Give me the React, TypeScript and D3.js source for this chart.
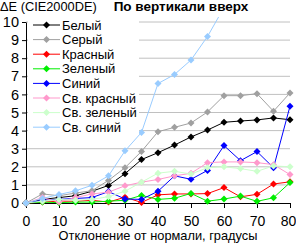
import React, { useEffect, useRef } from 'react'
import * as d3 from 'd3'

// viewing angle, degrees
const degrees = [0, 5, 10, 15, 20, 25, 30, 35, 40, 45, 50, 55, 60, 65, 70, 75, 80]

const white = [0, 0.2, 0.3, 0.4, 0.65, 0.97, 1.62, 2.4, 2.78, 3.2, 3.65, 4.03, 4.46, 4.53, 4.59, 4.7, 4.6]
const gray = [0, 0.5, 0.4, 0.55, 0.68, 1.25, 1.95, 2.85, 3.94, 4.18, 4.42, 5.03, 5.93, 5.93, 6.04, 5.07, 6.08]
const red = [0, 0.05, 0.1, 0.1, 0.15, 0.05, 0.32, 0.03, 0.45, 0.5, 0.5, 0.52, 0.85, 0.34, 0.48, 1.05, 1.17]
const green = [0, 0.05, 0.02, 0.05, 0.05, 0.1, 0.15, 0.42, 0.2, 0.26, 0.53, 0.1, 0.22, 0.38, 0.09, 0.29, 1.13]
const blue = [0, 0.15, 0.2, 0.25, 0.3, 0.63, 0.22, 0.2, 0.65, 1.5, 1.31, 1.8, 3.17, 2.34, 2.84, 1.95, 5.35]
const lightRed = [0, 0.3, 0.05, 0.3, 0.5, 0.6, 0.95, 1.15, 1.3, 1.5, 1.64, 2.23, 2.27, 2.27, 2.23, 2.12, 1.57]
const lightGreen = [0, 0.1, 0.2, 0.15, 0.2, 0.35, 0.65, 1.15, 1.65, 1.75, 1.6, 1.95, 2.0, 1.9, 1.75, 2.05, 2.0]
const lightBlue = [0, 0.25, 0.47, 0.67, 0.98, 1.5, 2.88, 3.9, 6.6, 7.1, 7.9, 9.2, 10.8]

const names = ['Белый', 'Серый', 'Красный', 'Зеленый', 'Синий', 'Св. красный', 'Св. зеленый', 'Св. синий']
const values = [white, gray, red, green, blue, lightRed, lightGreen, lightBlue]
const colors = ['#000000', '#a0a0a0', '#ff0000', '#00ee00', '#0000ff', '#ff99cc', '#ccffcc', '#99ccff']

const yTicks = [0, 1, 2, 3, 4, 5, 6, 7, 8, 9, 10]
const xTicks = [0, 10, 20, 30, 40, 50, 60, 70, 80]

const font = '"Liberation Sans", Arial, sans-serif'

const diamond = (r: number) => `M0,${-r}L${r},0L0,${r}L${-r},0Z`

export default function App() {
    const ref = useRef<SVGSVGElement>(null)

    useEffect(() => {
        const svg = d3.select(ref.current)
        svg.selectAll('*').remove()

        const x = d3.scaleLinear().domain([0, 80]).range([26, 290])
        const y = d3.scaleLinear().domain([0, 10]).range([203, 22])

        // horizontal gridlines
        svg.append('g')
            .selectAll('line')
            .data(yTicks.filter(t => t > 0))
            .join('line')
            .attr('x1', x(0))
            .attr('x2', x(80))
            .attr('y1', d => y(d))
            .attr('y2', d => y(d))
            .attr('stroke', '#c0c0c0')

        svg.append('defs').append('clipPath').attr('id', 'plot')
            .append('rect')
            .attr('x', 18).attr('y', 17).attr('width', 278).attr('height', 200)

        // axes
        const yAxis = svg.append('g')
            .attr('transform', `translate(${x(0)},0)`)
            .call(d3.axisLeft(y).tickValues(yTicks).tickSize(4).tickSizeOuter(0).tickPadding(3).tickFormat(d3.format('d')))
        const xAxis = svg.append('g')
            .attr('transform', `translate(0,${y(0)})`)
            .call(d3.axisBottom(x).tickValues(xTicks).tickSize(5).tickSizeOuter(0).tickPadding(8).tickFormat(d3.format('d')))
        ;[yAxis, xAxis].forEach(a => {
            a.selectAll('path,line').attr('stroke', '#000')
            a.selectAll('text')
                .attr('fill', '#000')
                .style('font-family', font)
        })
        yAxis.selectAll('text').style('font-size', '14.5px')
        xAxis.selectAll('text').style('font-size', '14px')
        // keep the last label inside the frame
        xAxis.selectAll('text').filter(d => d === 80).attr('dx', -2)

        const line = d3.line<number>()
            .x((d, i) => x(degrees[i]))
            .y(d => y(d))

        const series = svg.append('g').attr('clip-path', 'url(#plot)')
        values.forEach((vals, k) => {
            series.append('path')
                .attr('d', line(vals))
                .attr('fill', 'none')
                .attr('stroke', colors[k])
                .attr('stroke-width', 1)
            series.append('g')
                .selectAll('path')
                .data(vals)
                .join('path')
                .attr('d', diamond(3.5))
                .attr('transform', (d, i) => `translate(${x(degrees[i])},${y(d)})`)
                .attr('fill', colors[k])
        })

        // legend
        const legend = svg.append('g')
        legend.append('rect')
            .attr('x', 28).attr('y', 17).attr('width', 111).attr('height', 118)
            .attr('fill', '#fff')
        names.forEach((n, k) => {
            const ly = 25 + k * 14.6
            legend.append('line')
                .attr('x1', 33).attr('x2', 60).attr('y1', ly).attr('y2', ly)
                .attr('stroke', colors[k])
            legend.append('path')
                .attr('d', diamond(3.5))
                .attr('transform', `translate(46.5,${ly})`)
                .attr('fill', colors[k])
            legend.append('text')
                .attr('x', 62).attr('y', ly + 4.5)
                .style('font-family', font)
                .style('font-size', '13px')
                .text(n)
        })

        svg.append('text')
            .attr('x', 0).attr('y', 11)
            .style('font-family', font)
            .style('font-size', '12.8px')
            .text('ΔE (CIE2000DE)')

        svg.append('text')
            .attr('x', 181).attr('y', 11)
            .attr('text-anchor', 'middle')
            .style('font-family', font)
            .style('font-size', '13.5px')
            .style('font-weight', 'bold')
            .text('По вертикали вверх')

        svg.append('text')
            .attr('x', 158).attr('y', 240)
            .attr('text-anchor', 'middle')
            .style('font-family', font)
            .style('font-size', '12.8px')
            .text('Отклонение от нормали, градусы')
    }, [])

    return (
        <svg
            ref={ref}
            width={296}
            height={244}
            style={{ position: 'absolute', left: 0, top: 0, background: '#fff' }}
        />
    )
}
